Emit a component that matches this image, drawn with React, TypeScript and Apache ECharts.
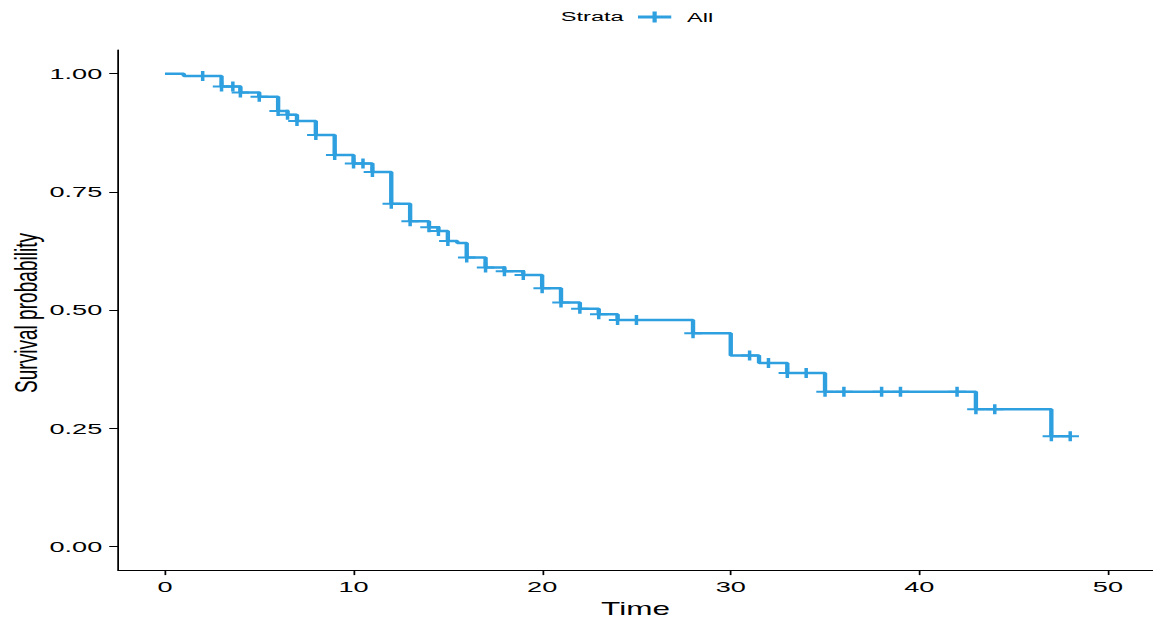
import React, { useEffect, useRef } from "react";
import * as echarts from "echarts";

// Kaplan-Meier estimate (step changes)
const eventTimes = [0, 1, 3, 4, 5, 6, 6.5, 7, 8, 9, 10, 11, 12, 13, 14, 14.5, 15, 15.5, 16, 17, 18, 19, 20, 21, 22, 23, 24, 28, 30, 31.5, 33, 35, 43, 47, 48];
const survival = [1.0, 0.995, 0.973, 0.96, 0.951, 0.921, 0.913, 0.9, 0.87, 0.828, 0.81, 0.792, 0.725, 0.688, 0.675, 0.667, 0.646, 0.642, 0.611, 0.59, 0.582, 0.574, 0.546, 0.516, 0.503, 0.491, 0.479, 0.451, 0.404, 0.388, 0.367, 0.327, 0.29, 0.233, 0.233];
// censoring times
const censorTimes = [2, 3, 3.6, 4, 5, 6, 6.5, 7, 8, 9, 10, 10.5, 11, 12, 13, 14, 14.5, 15, 16, 17, 18, 19, 20, 21, 22, 23, 24, 25, 28, 31, 32, 33, 34, 35, 36, 38, 39, 42, 43, 44, 47, 48];

const xTicks = [0, 10, 20, 30, 40, 50];
const yTicks = [0, 0.25, 0.5, 0.75, 1.0];
const strataTitle = "Strata";
const strataName = "All";
const xTitle = "Time";
const yTitle = "Survival probability";

const STRETCH = 1.75;
const W = 1153 / STRETCH;
const H = 623;
const BLUE = "#2E9FDF";
const FONT = "'Liberation Sans', Arial, Helvetica, sans-serif";

const survAt = (t: number) => {
  let s = survival[0];
  for (let i = 0; i < eventTimes.length; i++) {
    if (eventTimes[i] <= t) s = survival[i];
  }
  return s;
};

const PLUS = "path://M0,40 L40,40 L40,0 L60,0 L60,40 L100,40 L100,60 L60,60 L60,100 L40,100 L40,60 L0,60 Z";
const LEGEND_ICON = "path://M0,41 L83,41 L83,0 L107,0 L107,41 L190,41 L190,69 L107,69 L107,110 L83,110 L83,69 L0,69 Z";

export default function App() {
  const ref = useRef<HTMLDivElement>(null);
  useEffect(() => {
    if (!ref.current) return;
    const chart = echarts.init(ref.current, null, { renderer: "svg", width: W, height: H });
    const stepData = eventTimes.map((t, i) => [t, survival[i]]);
    const censorData = censorTimes.map((t) => [t, survAt(t)]);
    chart.setOption({
      animation: false,
      backgroundColor: "#ffffff",
      textStyle: { fontFamily: FONT },
      grid: { left: 118 / STRETCH, right: 0, top: 50, bottom: 48, containLabel: false },
      legend: {
        data: [{ name: strataName, icon: LEGEND_ICON }],
        left: 638 / STRETCH,
        top: 10,
        padding: 0,
        itemWidth: 19,
        itemHeight: 11,
        selectedMode: false,
        itemStyle: { borderWidth: 0 },
        textStyle: { fontSize: 13.5, color: "#000", fontFamily: FONT, padding: [0, 0, 0, 4] },
      },
      graphic: [
        {
          type: "text",
          left: 560.7 / STRETCH,
          top: 9,
          style: { text: strataTitle, fontSize: 13.5, fontFamily: FONT, fill: "#000" },
        },
        {
          type: "text",
          x: 26 / STRETCH,
          y: 313,
          rotation: Math.PI / 2,
          scaleX: 1.06,
          style: {
            text: yTitle,
            fontSize: 18,
            fontFamily: FONT,
            fill: "#000",
            align: "center",
            verticalAlign: "middle",
          },
        },
      ],
      xAxis: {
        type: "value",
        min: -2.49,
        max: 52.39,
        name: xTitle,
        nameLocation: "middle",
        nameGap: 27,
        nameTextStyle: { fontSize: 18, color: "#000", fontFamily: FONT },
        axisLine: { show: true, onZero: false, lineStyle: { color: "#000", width: 1 } },
        axisTick: { show: true, length: 5, customValues: xTicks, lineStyle: { color: "#000", width: 1 } },
        axisLabel: { customValues: xTicks, fontSize: 15.5, color: "#000", margin: 9, fontFamily: FONT },
        splitLine: { show: false },
      },
      yAxis: {
        type: "value",
        min: -0.05,
        max: 1.05,
        axisLine: { show: true, onZero: false, lineStyle: { color: "#000", width: 1 } },
        axisTick: { show: true, length: 5, customValues: yTicks, lineStyle: { color: "#000", width: 1 } },
        axisLabel: {
          customValues: yTicks,
          fontSize: 15.5,
          color: "#000",
          margin: 9,
          fontFamily: FONT,
          formatter: (v: number) => v.toFixed(2),
        },
        splitLine: { show: false },
      },
      series: [
        {
          name: strataName,
          type: "line",
          step: "end",
          data: stepData,
          showSymbol: false,
          symbol: "none",
          color: BLUE,
          lineStyle: { color: BLUE, width: 2.5 },
          z: 2,
        },
        {
          name: strataName,
          type: "scatter",
          data: censorData,
          symbol: PLUS,
          symbolSize: 10,
          color: BLUE,
          itemStyle: { color: BLUE, borderWidth: 0, opacity: 1 },
          z: 3,
        },
      ],
    });
    return () => chart.dispose();
  }, []);
  return (
    <div
      ref={ref}
      style={{
        position: "fixed",
        left: 0,
        top: 0,
        width: W,
        height: H,
        transform: `scaleX(${STRETCH})`,
        transformOrigin: "0 0",
        background: "#fff",
      }}
    />
  );
}
